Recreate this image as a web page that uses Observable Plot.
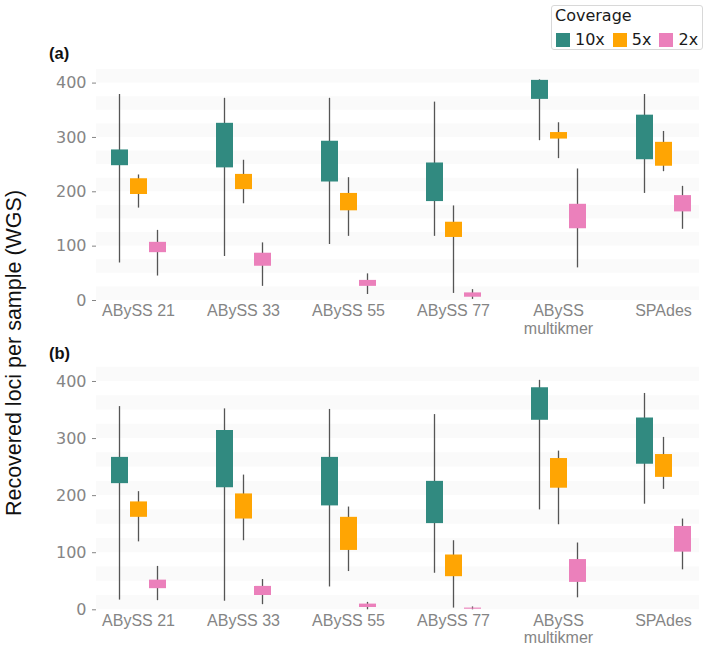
<!DOCTYPE html>
<html><head><meta charset="utf-8">
<script src="https://cdn.jsdelivr.net/npm/d3@7"></script>
<script src="https://cdn.jsdelivr.net/npm/@observablehq/plot@0.6"></script>
<style>
body{margin:0;background:#fff;}
#root{position:relative;width:709px;height:645px;overflow:hidden;font-family:"Liberation Sans",Arial,sans-serif;background:#fff;}
.panel{position:absolute;left:0;}
.plabel{position:absolute;left:49px;font-weight:bold;font-size:16.5px;line-height:16px;color:#111;font-family:"Liberation Sans",Arial,sans-serif;}
#legend{position:absolute;left:551px;top:5px;width:152px;height:45px;box-sizing:border-box;border:1px solid #d8d8d8;border-radius:3px;background:#fff;}
#legend .ltitle{position:absolute;left:3px;top:2px;font-family:"DejaVu Sans",sans-serif;font-size:16px;line-height:16px;color:#1a1a1a;}
#legend .lsw{position:absolute;left:4px;top:24px;width:160px;white-space:nowrap;}
.cov-swatches{margin:0 !important;}
.cov-swatches-wrap{min-height:14px !important;flex-wrap:nowrap !important;display:flex !important;}
.cov-swatch{margin-right:8px !important;white-space:nowrap;}
.cov-swatch > svg{margin-right:5px !important;}
</style></head><body><div id="root"></div>
<script>
// ---- data ----
const assemblers = ["ABySS 21", "ABySS 33", "ABySS 55", "ABySS 77", "ABySS multikmer", "SPAdes"];
const assemblerLabels = ["ABySS 21", "ABySS 33", "ABySS 55", "ABySS 77", "ABySS\nmultikmer", "SPAdes"];
const coverages = ["10x", "5x", "2x"];
const coverageColors = ["#318a80", "#ffa503", "#eb80bb"];
const yTicks = [0, 100, 200, 300, 400];
const panelLabels = ["(a)", "(b)"];
const yTitle = "Recovered loci per sample (WGS)";

// each entry: [min, lower quartile, upper quartile, max]
const panelA_10x = [[69, 248, 277, 379], [81, 244, 326, 372], [103, 218, 293, 372], [118, 182, 253, 365], [294, 370, 405, 406], [197, 259, 341, 379]];
const panelA_5x  = [[170, 195, 224, 231], [178, 204, 232, 258], [118, 165, 197, 226], [13, 116, 144, 174], [261, 297, 309, 327], [237, 247, 291, 311]];
const panelA_2x  = [[45, 88, 107, 129], [26, 63, 87, 106], [11, 26, 37, 49], [2, 6, 14, 20], [60, 132, 177, 242], [131, 163, 193, 210]];

const panelB_10x = [[17, 221, 267, 356], [15, 214, 314, 352], [40, 182, 267, 351], [64, 151, 225, 342], [175, 332, 389, 402], [185, 255, 336, 379]];
const panelB_5x  = [[119, 162, 189, 207], [121, 159, 203, 236], [67, 104, 162, 180], [3, 58, 96, 121], [149, 213, 265, 278], [211, 232, 272, 302]];
const panelB_2x  = [[16, 37, 52, 76], [9, 25, 41, 53], [0, 4, 10, 13], [0, 1, 3, 5], [21, 48, 88, 117], [70, 101, 146, 159]];

// ---- build ----
function rowsFor(series) {
  return coverages.flatMap((c, ci) => series[ci].map((v, i) => ({
    assembler: assemblers[i], coverage: c, lo: v[0], q1: v[1], q3: v[2], hi: v[3]
  })));
}
const stripes = d3.range(0, 425, 50);
const labelOf = new Map(assemblers.map((a, i) => [a, assemblerLabels[i]]));

function panel(series, opts) {
  const rows = rowsFor(series);
  const marks = [
    Plot.rect(stripes, {y1: d => d, y2: d => d + 25, fill: "#fafafa"})
  ];
  coverages.forEach((c, ci) => {
    const sub = rows.filter(r => r.coverage === c);
    const dx = (ci - 1) * 19;
    marks.push(Plot.ruleX(sub, {x: "assembler", y1: "lo", y2: "hi", dx, stroke: "#555", strokeWidth: 1.3}));
    marks.push(Plot.ruleX(sub, {x: "assembler", y1: "q1", y2: "q3", dx, stroke: "coverage", strokeWidth: 17}));
  });
  marks.push(Plot.axisY({ticks: yTicks, tickSize: 4, tickPadding: 6, color: "#858585", fontSize: 16, fontFamily: "DejaVu Sans", label: null}));
  marks.push(Plot.axisX({tickSize: 0, tickPadding: 3, color: "#858585", fontSize: 16, fontFamily: "Liberation Sans", lineHeight: 1.12, tickFormat: d => labelOf.get(d), label: null}));
  return Plot.plot({
    width: 709,
    height: opts.height,
    marginTop: opts.marginTop,
    marginBottom: opts.marginBottom,
    marginLeft: 96,
    marginRight: 10,
    x: {type: "point", domain: assemblers, padding: 0, insetLeft: 40, insetRight: 34.5},
    y: {domain: [0, 425]},
    color: {domain: coverages, range: coverageColors},
    style: {background: "transparent", overflow: "visible", fontSize: "16px"},
    marks
  });
}

const root = document.getElementById("root");

const pa = panel([panelA_10x, panelA_5x, panelA_2x], {height: 345, marginTop: 69, marginBottom: 45});
pa.classList.add("panel"); pa.style.top = "0px";
root.appendChild(pa);

const pb = panel([panelB_10x, panelB_5x, panelB_2x], {height: 300, marginTop: 21.7, marginBottom: 35.7});
pb.classList.add("panel"); pb.style.top = "345px";
root.appendChild(pb);

// panel labels
[[panelLabels[0], 45], [panelLabels[1], 344.7]].forEach(([t, top]) => {
  const d = document.createElement("div");
  d.className = "plabel"; d.style.top = top + "px"; d.textContent = t;
  root.appendChild(d);
});

// y title
const ns = "http://www.w3.org/2000/svg";
const ys = document.createElementNS(ns, "svg");
ys.setAttribute("width", 40); ys.setAttribute("height", 645);
ys.style.position = "absolute"; ys.style.left = "0px"; ys.style.top = "0px";
const yt = document.createElementNS(ns, "text");
yt.setAttribute("transform", "translate(21,353) rotate(-90)");
yt.setAttribute("text-anchor", "middle");
yt.setAttribute("font-size", "21.5");
yt.setAttribute("font-family", "Liberation Sans, Arial, sans-serif");
yt.setAttribute("fill", "#111");
yt.textContent = yTitle;
ys.appendChild(yt);
root.appendChild(ys);

// legend
const lg = document.createElement("div");
lg.id = "legend";
const lt = document.createElement("div");
lt.className = "ltitle"; lt.textContent = "Coverage";
lg.appendChild(lt);
const sw = document.createElement("div");
sw.className = "lsw";
sw.appendChild(Plot.legend({
  color: {domain: coverages, range: coverageColors},
  legend: "swatches",
  swatchSize: 14,
  className: "cov",
  style: {fontFamily: "DejaVu Sans", fontSize: "16px", color: "#1a1a1a"}
}));
lg.appendChild(sw);
root.appendChild(lg);
</script>
</body></html>
